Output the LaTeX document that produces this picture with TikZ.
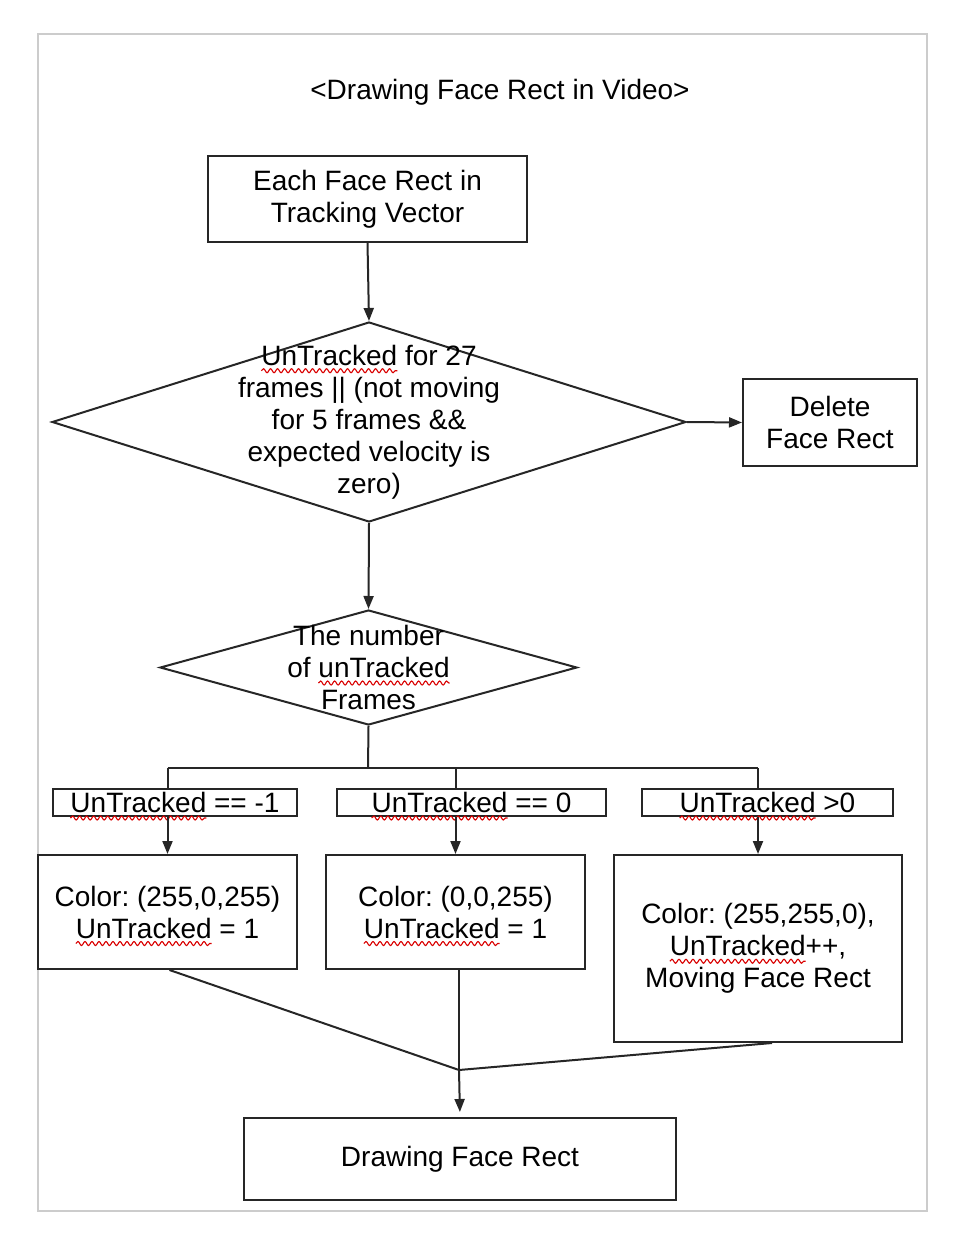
\documentclass[tikz,border=0pt]{standalone}
\usepackage{fontspec}
\setmainfont{Liberation Sans}
\frenchspacing
\usetikzlibrary{shapes.geometric,arrows.meta,decorations.pathmorphing}

% red wavy spell-check mark
\newlength\spellwidth
\newcommand\spellmark[1]{\settowidth\spellwidth{#1}\rlap{\tikz[overlay, baseline=0pt]
  \draw[red!85!black, line width=1.1pt, decorate, decoration={snake, amplitude=2pt, segment length=7pt}]
    (0pt,-5.5pt) -- (\spellwidth,-5.5pt);}#1}

\tikzset{
  line/.style={draw=black!85, line width=2pt},
  arrow/.style={line, -{Triangle[length=13pt,width=10pt]}},
  box/.style={line, align=center, inner sep=0pt},
  decision/.style={line, diamond, inner sep=0pt}
}

\begin{document}
\begin{tikzpicture}[x=1pt, y=-1pt, font=\fontsize{28}{32}\selectfont]
  \useasboundingbox (0,0) rectangle (962,1246);
  % Frame
  \draw[black!20, line width=1.8pt] (38,34) rectangle (927,1211);

  % Title
  \node (title) at (500,92) {<Drawing Face Rect in Video>};

  % Tests
  \node[box, minimum width=319pt, minimum height=86pt] (each) at (367.5,199) {Each Face Rect in\\Tracking Vector};
  \node[decision, minimum width=634pt, minimum height=200pt] (untrack) at (369,422) {};
  \node[align=center] (untracktext) at (untrack) {\spellmark{UnTracked} for 27\\frames || (not moving\\for 5 frames \&\&\\expected velocity is\\zero)};
  \node[box, minimum width=174pt, minimum height=87pt] (delete) at (830,422.5) {Delete\\Face Rect};
  \node[decision, minimum width=417pt, minimum height=115pt] (number) at (368.5,667.5) {};
  \node[align=center] (numbertext) at (number) {The number\\of \spellmark{unTracked}\\Frames};
  \coordinate (split) at (368,768);

  % Cases
  \node[box, minimum width=244pt, minimum height=27pt] (minusone) at (175,802.5) {\spellmark{UnTracked} == -1};
  \node[box, minimum width=269pt, minimum height=27pt] (zero) at (471.5,802.5) {\spellmark{UnTracked} == 0};
  \node[box, minimum width=251pt, minimum height=27pt] (positive) at (767.5,802.5) {\spellmark{UnTracked} >0};

  % Actions
  \node[box, minimum width=259pt, minimum height=114pt] (magenta) at (167.5,912) {Color: (255,0,255)\\\spellmark{UnTracked} = 1};
  \node[box, minimum width=259pt, minimum height=114pt] (blue) at (455.5,912) {Color: (0,0,255)\\\spellmark{UnTracked} = 1};
  \node[box, minimum width=288pt, minimum height=187pt] (yellow) at (758,948.5) {Color: (255,255,0),\\\spellmark{UnTracked}++,\\Moving Face Rect};
  \coordinate (join) at (459,1070);
  \node[box, minimum width=432pt, minimum height=82pt] (drawing) at (460,1159) {Drawing Face Rect};

  % Connectors
  \draw[arrow] (each.south) -- (untrack.north);
  \draw[arrow] (untrack.east) -- (delete.west);
  \draw[arrow] (untrack.south) -- (number.north);
  \draw[line] (number.south) -- (split);
  \draw[line] (magenta.north |- split) -- (yellow.north |- split);
  \foreach \lab/\dest in {minusone/magenta, zero/blue, positive/yellow} {
    \draw[line] (\dest.north |- split) -- (\dest.north |- \lab.north);
    \draw[arrow] (\dest.north |- \lab.south) -- (\dest.north);
  }
  \draw[line] ([xshift=2pt]magenta.south) -- (join);
  \draw[line] (join |- blue.south) -- (join);
  \draw[line] ([xshift=14pt]yellow.south) -- (join);
  \draw[arrow, shorten >=5pt] (join) -- (drawing.north);
\end{tikzpicture}
\end{document}
